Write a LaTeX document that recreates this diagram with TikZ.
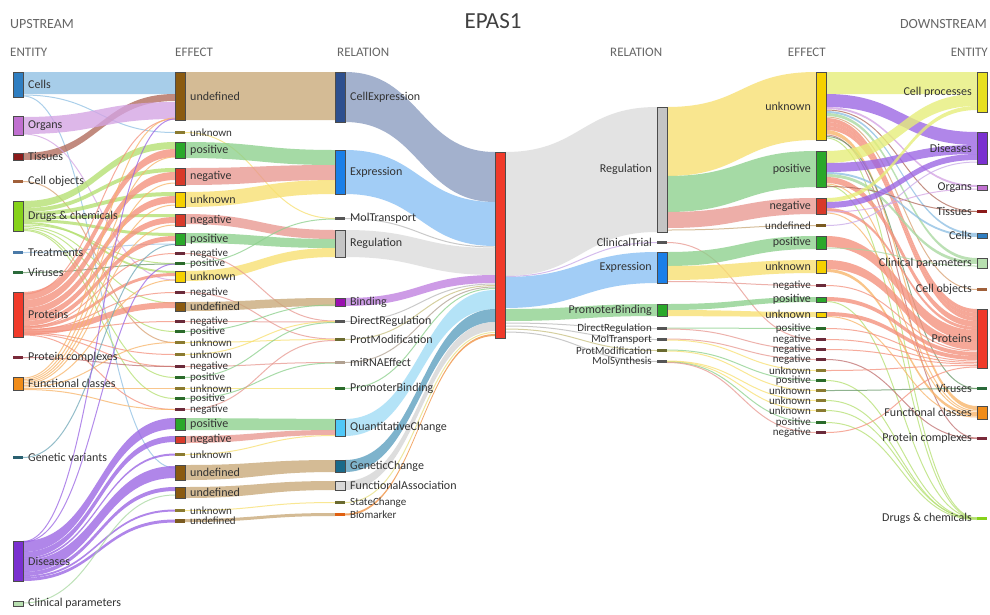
\documentclass[tikz,border=0pt]{standalone}
\usepackage{fontspec}
\setmainfont{Carlito}
\usetikzlibrary{calc}
\pgfdeclarelayer{bg}\pgfdeclarelayer{flows}\pgfsetlayers{bg,flows,main}
% node colours
\definecolor{txt}{HTML}{333333}
\definecolor{hdrc}{HTML}{666666}
\definecolor{cCells}{HTML}{2F7EC1}
\definecolor{cOrg}{HTML}{C070D0}
\definecolor{cTis}{HTML}{8B1A1A}
\definecolor{cCobj}{HTML}{A0603A}
\definecolor{cDrug}{HTML}{86D21A}
\definecolor{cTreat}{HTML}{4A7AA8}
\definecolor{cVir}{HTML}{2A6A3A}
\definecolor{cProt}{HTML}{F03A2A}
\definecolor{cPcx}{HTML}{7A2A3A}
\definecolor{cFunc}{HTML}{F08C1A}
\definecolor{cGen}{HTML}{2A6070}
\definecolor{cDis}{HTML}{7A30D0}
\definecolor{cClin}{HTML}{B8E0B0}
\definecolor{cCproc}{HTML}{E8E020}
\definecolor{cUndef}{HTML}{8A5A10}
\definecolor{cUnk}{HTML}{F5D000}
\definecolor{cPos}{HTML}{2AA82A}
\definecolor{cNeg}{HTML}{D83A2A}
\definecolor{dUndef}{HTML}{7A5A20}
\definecolor{dUnk}{HTML}{8A7A30}
\definecolor{dPos}{HTML}{2A6A2A}
\definecolor{dNeg}{HTML}{6A2A3A}
\definecolor{cCellExp}{HTML}{2D4F8E}
\definecolor{cExpr}{HTML}{1A7FE8}
\definecolor{cReg}{HTML}{C4C4C4}
\definecolor{cBind}{HTML}{9A10B0}
\definecolor{cQC}{HTML}{50C8F8}
\definecolor{cGC}{HTML}{1A6A8A}
\definecolor{cFA}{HTML}{D8D8D8}
\definecolor{dGray}{HTML}{555555}
\definecolor{dOlive}{HTML}{6A6A30}
\definecolor{dTan}{HTML}{B0A090}
\definecolor{cBio}{HTML}{E06010}
% band colours
\definecolor{bCells}{HTML}{8FC0E4}
\definecolor{bOrg}{HTML}{D4A4E4}
\definecolor{bTis}{HTML}{B06A5A}
\definecolor{bCobj}{HTML}{D8A070}
\definecolor{bDrug}{HTML}{B4E070}
\definecolor{bTreat}{HTML}{9CC4E8}
\definecolor{bVir}{HTML}{6A9A6A}
\definecolor{bProt}{HTML}{F4907C}
\definecolor{bPcx}{HTML}{C07070}
\definecolor{bFunc}{HTML}{F8B468}
\definecolor{bGen}{HTML}{70A8B8}
\definecolor{bDis}{HTML}{9A64E4}
\definecolor{bClin}{HTML}{A8D8A0}
\definecolor{bUndef}{HTML}{C8A878}
\definecolor{bUnk}{HTML}{F8E070}
\definecolor{bPos}{HTML}{8CD08C}
\definecolor{bNeg}{HTML}{E89890}
\definecolor{bCellExp}{HTML}{8A9CC0}
\definecolor{bExpr}{HTML}{88C0F4}
\definecolor{bReg}{HTML}{DCDCDC}
\definecolor{bBind}{HTML}{C080E0}
\definecolor{bQC}{HTML}{A0DCF6}
\definecolor{bGC}{HTML}{5A9EBE}
\definecolor{bFA}{HTML}{D4D4D4}
\definecolor{bSC}{HTML}{E8E080}
\definecolor{bBio}{HTML}{F09040}
\definecolor{bCproc}{HTML}{E6EE78}
\definecolor{bGray}{HTML}{B8B8B8}
\definecolor{bLav}{HTML}{C8A8E8}
\definecolor{bOl}{HTML}{C8C080}
\tikzset{
 nb/.style={rectangle, draw=black!70, line width=0.6pt, inner sep=0pt, outer sep=0pt, minimum width=10pt, anchor=north west},
 nd/.style={rectangle, draw=none, inner sep=0pt, outer sep=0pt, minimum width=10pt, anchor=north west},
 ne/.style={nd},
 lbl/.style={font=\fontsize{12}{12}\selectfont, text=txt, inner sep=0pt},
 nblab/.style={},
 nelab/.style={},
 ndlab/.style={font=\fontsize{11}{11}\selectfont},
 hdr/.style={font=\fontsize{13}{14}\selectfont, text=hdrc, inner sep=0pt},
 bandfill/.style={fill opacity=0.78},
 thinline/.style={line width=1pt, draw opacity=0.75}
}
\newcommand{\nodeL}[7]{\node[#1, minimum height=#5pt, fill=#6] (#2) at (#3,#4) {};
 \node[lbl, #1lab, anchor=west] (#2t) at ($(#2.east)+(5,0)$) {#7};}
\newcommand{\nodeR}[7]{\node[#1, minimum height=#5pt, fill=#6] (#2) at (#3,#4) {};
 \node[lbl, #1lab, anchor=east] (#2t) at ($(#2.west)+(-5,0)$) {#7};}
\newcommand{\flowband}[7]{\fill[#7, bandfill] ($(#1.north east)+(0,#2)$) .. controls +(75,0) and +(-75,0) .. ($(#4.north west)+(0,#5)$) -- ($(#4.north west)+(0,#6)$) .. controls +(-75,0) and +(75,0) .. ($(#1.north east)+(0,#3)$) -- cycle;}
\newcommand{\flowline}[5]{\draw[#5, thinline] ($(#1.north east)+(0,#2)$) .. controls +(75,0) and +(-75,0) .. ($(#3.north west)+(0,#4)$);}
\begin{document}
\begin{tikzpicture}[x=1pt,y=-1pt]
\begin{pgfonlayer}{bg}
\fill[white] (0,0) rectangle (990,614);
\end{pgfonlayer}
\useasboundingbox (0,0) rectangle (990,614);
% headers
\node[hdr, anchor=west, font=\fontsize{14}{14}\selectfont] (hup) at (10,24) {UPSTREAM};
\node[hdr, anchor=west] (hent) at (10,52) {ENTITY};
\node[hdr, anchor=west] (heff) at (175,52) {EFFECT};
\node[hdr, anchor=west] (hrel) at (337,52) {RELATION};
\node[font=\fontsize{23}{24}\selectfont, text=black!75, inner sep=0pt] (title) at (493,21) {EPAS1};
\node[hdr, anchor=west] (hrel2) at (610,52) {RELATION};
\node[hdr, anchor=east] (heff2) at (826,52) {EFFECT};
\node[hdr, anchor=east, font=\fontsize{14}{14}\selectfont] (hdown) at (987,24) {DOWNSTREAM};
\node[hdr, anchor=east] (hent2) at (988,52) {ENTITY};
% left entities
\nodeL{nb}{lcells}{13}{72}{25}{cCells}{Cells}
\nodeL{nb}{lorg}{13}{116}{19}{cOrg}{Organs}
\nodeL{nb}{ltis}{13}{153}{7}{cTis}{Tissues}
\nodeL{ne}{lcobj}{13}{180}{3}{cCobj}{Cell objects}
\nodeL{nb}{ldrug}{13}{201}{30}{cDrug}{Drugs \& chemicals}
\nodeL{ne}{ltreat}{13}{251}{3}{cTreat}{Treatments}
\nodeL{ne}{lvir}{13}{271}{3}{cVir}{Viruses}
\nodeL{nb}{lprot}{13}{292}{45}{cProt}{Proteins}
\nodeL{ne}{lpcx}{13}{356}{3}{cPcx}{Protein complexes}
\nodeL{nb}{lfunc}{13}{377}{13}{cFunc}{Functional classes}
\nodeL{ne}{lgen}{13}{456}{3}{cGen}{Genetic variants}
\nodeL{nb}{ldis}{13}{541}{40}{cDis}{Diseases}
\nodeL{nb}{lclin}{13}{601}{5}{cClin}{Clinical parameters}
% left effects
\nodeL{nb}{f1}{175}{72}{48}{cUndef}{undefined}
\nodeL{nd}{f2}{175}{131}{3}{dUnk}{unknown}
\nodeL{nb}{f3}{175}{142}{16}{cPos}{positive}
\nodeL{nb}{f4}{175}{168}{17}{cNeg}{negative}
\nodeL{nb}{f5}{175}{192}{15}{cUnk}{unknown}
\nodeL{nb}{f6}{175}{214}{12}{cNeg}{negative}
\nodeL{nb}{f7}{175}{233}{12}{cPos}{positive}
\nodeL{nd}{f8}{175}{252}{3}{dNeg}{negative}
\nodeL{nd}{f9}{175}{262}{3}{dPos}{positive}
\nodeL{nb}{f10}{175}{271}{11}{cUnk}{unknown}
\nodeL{nd}{f11}{175}{291}{3}{dNeg}{negative}
\nodeL{nb}{f12}{175}{302}{9}{cUndef}{undefined}
\nodeL{nd}{f13}{175}{320}{3}{dNeg}{negative}
\nodeL{nd}{f14}{175}{330}{3}{dPos}{positive}
\nodeL{nd}{f15}{175}{341}{3}{dUnk}{unknown}
\nodeL{nd}{f16}{175}{353}{3}{dUnk}{unknown}
\nodeL{nd}{f17}{175}{365}{3}{dNeg}{negative}
\nodeL{nd}{f18}{175}{376}{3}{dPos}{positive}
\nodeL{nd}{f19}{175}{387}{3}{dUnk}{unknown}
\nodeL{nd}{f20}{175}{397}{3}{dPos}{positive}
\nodeL{nd}{f21}{175}{408}{3}{dNeg}{negative}
\nodeL{nb}{f22}{175}{418}{12}{cPos}{positive}
\nodeL{nb}{f23}{175}{436}{7}{cNeg}{negative}
\nodeL{nd}{f24}{175}{453}{3}{dUnk}{unknown}
\nodeL{nb}{f25}{175}{465}{15}{cUndef}{undefined}
\nodeL{nb}{f26}{175}{487}{11}{cUndef}{undefined}
\nodeL{nd}{f27}{175}{509}{3}{dUnk}{unknown}
\nodeL{nd}{f28}{175}{519}{4}{dUndef}{undefined}
% left relations
\nodeL{nb}{r1}{335}{72}{50}{cCellExp}{CellExpression}
\nodeL{nb}{r2}{335}{150}{44}{cExpr}{Expression}
\nodeL{ne}{r3}{335}{217}{3}{dGray}{MolTransport}
\nodeL{nb}{r4}{335}{230}{27}{cReg}{Regulation}
\nodeL{nb}{r5}{335}{298}{8}{cBind}{Binding}
\nodeL{ne}{r6}{335}{320}{3}{dGray}{DirectRegulation}
\nodeL{ne}{r7}{335}{338}{3}{dOlive}{ProtModification}
\nodeL{ne}{r8}{335}{361}{3}{dTan}{miRNAEffect}
\nodeL{ne}{r9}{335}{387}{3}{dPos}{PromoterBinding}
\nodeL{nb}{r10}{335}{419}{17}{cQC}{QuantitativeChange}
\nodeL{nb}{r11}{335}{460}{12}{cGC}{GeneticChange}
\nodeL{nb}{r12}{335}{481}{9}{cFA}{FunctionalAssociation}
\nodeL{nd}{r13}{335}{501}{3}{dOlive}{StateChange}
\nodeL{nd}{r14}{335}{513}{3}{cBio}{Biomarker}
% centre
\node[nb, minimum height=186pt, fill=cProt] (epas) at (495,152) {};
% right relations
\nodeR{nb}{s1}{657}{107}{125}{cReg}{Regulation}
\nodeR{ne}{s2}{657}{241}{3}{dGray}{ClinicalTrial}
\nodeR{nb}{s3}{657}{252}{31}{cExpr}{Expression}
\nodeR{nb}{s4}{657}{304}{12}{cPos}{PromoterBinding}
\nodeR{nd}{s5}{657}{327}{3}{dGray}{DirectRegulation}
\nodeR{nd}{s6}{657}{338}{3}{dGray}{MolTransport}
\nodeR{nd}{s7}{657}{349}{3}{dOlive}{ProtModification}
\nodeR{nd}{s8}{657}{360}{3}{dGray}{MolSynthesis}
% right effects
\nodeR{nb}{g1}{816}{72}{68}{cUnk}{unknown}
\nodeR{nb}{g2}{816}{151}{36}{cPos}{positive}
\nodeR{nb}{g3}{816}{198}{16}{cNeg}{negative}
\nodeR{nd}{g4}{816}{224}{3}{dUndef}{undefined}
\nodeR{nb}{g5}{816}{236}{13}{cPos}{positive}
\nodeR{nb}{g6}{816}{260}{13}{cUnk}{unknown}
\nodeR{nd}{g7}{816}{284}{3}{dNeg}{negative}
\nodeR{nb}{g8}{816}{297}{5}{cPos}{positive}
\nodeR{nb}{g9}{816}{312}{5}{cUnk}{unknown}
\nodeR{nd}{g10}{816}{327}{3}{dPos}{positive}
\nodeR{nd}{g11}{816}{338}{3}{dNeg}{negative}
\nodeR{nd}{g12}{816}{348}{3}{dNeg}{negative}
\nodeR{nd}{g13}{816}{358}{3}{dNeg}{negative}
\nodeR{nd}{g14}{816}{369}{3}{dUnk}{unknown}
\nodeR{nd}{g15}{816}{379}{3}{dPos}{positive}
\nodeR{nd}{g16}{816}{389}{3}{dUnk}{unknown}
\nodeR{nd}{g17}{816}{399}{3}{dUnk}{unknown}
\nodeR{nd}{g18}{816}{409}{3}{dUnk}{unknown}
\nodeR{nd}{g19}{816}{421}{3}{dPos}{positive}
\nodeR{nd}{g20}{816}{431}{3}{dNeg}{negative}
% right entities
\nodeR{nb}{t1}{977}{72}{40}{cCproc}{Cell processes}
\nodeR{nb}{t2}{977}{132}{32}{cDis}{Diseases}
\nodeR{nb}{t3}{977}{185}{5}{cOrg}{Organs}
\nodeR{ne}{t4}{977}{210}{3}{cTis}{Tissues}
\nodeR{nb}{t5}{977}{233}{5}{cCells}{Cells}
\nodeR{nb}{t6}{977}{258}{10}{cClin}{Clinical parameters}
\nodeR{ne}{t7}{977}{288}{3}{cCobj}{Cell objects}
\nodeR{nb}{t8}{977}{309}{59}{cProt}{Proteins}
\nodeR{ne}{t9}{977}{387}{3}{cVir}{Viruses}
\nodeR{nb}{t10}{977}{406}{13}{cFunc}{Functional classes}
\nodeR{ne}{t11}{977}{437}{3}{cPcx}{Protein complexes}
\nodeR{ne}{t12}{977}{517}{3}{cDrug}{Drugs \& chemicals}
\begin{pgfonlayer}{flows}
% entity -> effect (left)
\flowband{lcells}{0}{22}{f1}{0}{22}{bCells}
\flowline{lcells}{23}{f2}{1.5}{bCells}
\flowline{lcells}{24}{f25}{3}{bCells}
\flowband{ltis}{0}{7}{f1}{22}{29}{bTis}
\flowband{lorg}{1}{18}{f1}{30}{47}{bOrg}
\flowline{lorg}{18}{f10}{9}{bOrg}
\flowline{lcobj}{1.5}{f15}{1.5}{bCobj}
\flowband{ldrug}{0}{7}{f3}{0}{7}{bDrug}
\flowband{ldrug}{7}{11}{f4}{0}{4}{bDrug}
\flowband{ldrug}{11}{15}{f5}{0}{4}{bDrug}
\flowband{ldrug}{15}{18}{f6}{0}{3}{bDrug}
\flowband{ldrug}{18}{21}{f7}{0}{3}{bDrug}
\flowband{ldrug}{21}{23}{f10}{0}{2}{bDrug}
\flowline{ldrug}{24}{f9}{1.5}{bDrug}
\flowline{ldrug}{25.5}{f12}{1}{bDrug}
\flowline{ldrug}{27}{f14}{1.5}{bDrug}
\flowline{ldrug}{28.5}{f18}{1.5}{bDrug}
\flowline{ldrug}{29.5}{f20}{1.5}{bDrug}
\flowline{ltreat}{1.5}{f7}{11}{bTreat}
\flowline{lvir}{1.5}{f9}{2}{bVir}
\flowband{lprot}{0}{8}{f3}{7}{15}{bProt}
\flowband{lprot}{8}{16}{f4}{4}{12}{bProt}
\flowband{lprot}{16}{23}{f5}{4}{11}{bProt}
\flowband{lprot}{23}{29}{f6}{3}{9}{bProt}
\flowband{lprot}{29}{34}{f7}{3}{8}{bProt}
\flowband{lprot}{34}{37}{f10}{2}{5}{bProt}
\flowband{lprot}{37}{43}{f12}{0}{6}{bProt}
\flowline{lprot}{2}{f1}{47}{bProt}
\flowline{lprot}{35}{f8}{1.5}{bProt}
\flowline{lprot}{38}{f11}{1.5}{bProt}
\flowline{lprot}{40}{f13}{1.5}{bProt}
\flowline{lprot}{41}{f16}{1.5}{bProt}
\flowline{lprot}{42}{f17}{1.5}{bProt}
\flowline{lprot}{43}{f21}{1.5}{bProt}
\flowline{lpcx}{1.5}{f17}{1.5}{bPcx}
\flowline{lfunc}{1}{f1}{46}{bFunc}
\flowline{lfunc}{2.5}{f3}{15}{bFunc}
\flowline{lfunc}{4}{f4}{15}{bFunc}
\flowline{lfunc}{5.5}{f5}{13}{bFunc}
\flowline{lfunc}{7}{f6}{11}{bFunc}
\flowline{lfunc}{8.5}{f10}{9}{bFunc}
\flowline{lfunc}{10}{f15}{1.5}{bFunc}
\flowline{lfunc}{11.5}{f19}{1.5}{bFunc}
\flowline{lfunc}{12.5}{f21}{1.5}{bFunc}
\flowline{lgen}{1.5}{f7}{11.5}{bGen}
\flowband{ldis}{0}{11}{f22}{0}{11}{bDis}
\flowband{ldis}{11}{17}{f23}{0}{6}{bDis}
\flowband{ldis}{17}{19}{f24}{0.5}{2.5}{bDis}
\flowband{ldis}{19}{31}{f25}{1}{13}{bDis}
\flowband{ldis}{31}{35}{f26}{0}{4}{bDis}
\flowband{ldis}{35}{37}{f27}{0.5}{2.5}{bDis}
\flowband{ldis}{37}{40}{f28}{0.5}{3.5}{bDis}
\flowline{ldis}{0.5}{f1}{47}{bDis}
\flowline{ldis}{1}{f9}{2}{bDis}
\flowline{lclin}{2}{f26}{8}{bClin}
% effect -> relation (left)
\flowband{f1}{0}{48}{r1}{0}{48}{bUndef}
\flowline{f2}{1.5}{r3}{1.5}{bUnk}
\flowband{f3}{0}{16}{r2}{0}{15}{bPos}
\flowband{f4}{0}{17}{r2}{15}{30}{bNeg}
\flowband{f5}{0}{15}{r2}{30}{44}{bUnk}
\flowband{f6}{0}{10}{r4}{0}{9}{bNeg}
\flowband{f7}{0}{10}{r4}{9}{18}{bPos}
\flowband{f10}{0}{10}{r4}{18}{27}{bUnk}
\flowline{f8}{1.5}{r6}{1}{bNeg}
\flowline{f9}{1.5}{r3}{2}{bPos}
\flowline{f11}{1.5}{r7}{1}{bNeg}
\flowband{f12}{0}{9}{r5}{0}{8}{bUndef}
\flowline{f13}{1.5}{r6}{2}{bNeg}
\flowline{f14}{1.5}{r5}{7}{bPos}
\flowline{f15}{1.5}{r7}{1.5}{bUnk}
\flowline{f16}{1.5}{r6}{1.5}{bUnk}
\flowline{f17}{1.5}{r8}{1.5}{bNeg}
\flowline{f18}{1.5}{r6}{2.5}{bPos}
\flowline{f19}{1.5}{r9}{1.5}{bUnk}
\flowline{f20}{1.5}{r8}{2}{bPos}
\flowline{f21}{1.5}{r7}{2.5}{bNeg}
\flowband{f22}{0}{12}{r10}{0}{11}{bPos}
\flowband{f23}{0}{7}{r10}{11}{16}{bNeg}
\flowline{f24}{1.5}{r10}{16.5}{bUnk}
\flowband{f25}{0}{15}{r11}{0}{12}{bUndef}
\flowband{f26}{0}{11}{r12}{0}{9}{bUndef}
\flowline{f27}{1.5}{r13}{1.5}{bUnk}
\flowband{f28}{0}{3}{r14}{0}{3}{bUndef}
% relation -> EPAS1
\flowband{r1}{0}{50}{epas}{0}{50}{bCellExp}
\flowband{r2}{0}{44}{epas}{50}{94}{bExpr}
\flowline{r3}{1.5}{epas}{95}{bGray}
\flowband{r4}{0}{27}{epas}{96}{123}{bReg}
\flowband{r5}{0}{8}{epas}{123}{131}{bBind}
\flowline{r6}{1.5}{epas}{132}{bGray}
\flowline{r7}{1.5}{epas}{133.5}{bOl}
\flowline{r8}{1.5}{epas}{135}{dTan}
\flowline{r9}{1.5}{epas}{136.5}{bPos}
\flowband{r10}{0}{17}{epas}{138}{157}{bQC}
\flowband{r11}{0}{12}{epas}{157}{170}{bGC}
\flowband{r12}{0}{9}{epas}{170}{179}{bFA}
\flowline{r13}{1.5}{epas}{180.5}{bSC}
\flowband{r14}{0.5}{2.5}{epas}{182}{184}{bBio}
% EPAS1 -> relation (right)
\flowband{epas}{0}{124}{s1}{0}{125}{bReg}
\flowline{epas}{124.5}{s2}{1.5}{bLav}
\flowband{epas}{125}{156}{s3}{0}{31}{bExpr}
\flowband{epas}{157}{169}{s4}{0}{12}{bPos}
\flowline{epas}{171}{s5}{1.5}{bGray}
\flowline{epas}{174}{s6}{1.5}{bGray}
\flowline{epas}{177}{s7}{1.5}{bOl}
\flowline{epas}{180}{s8}{1.5}{bGray}
% relation -> effect (right)
\flowband{s1}{0}{69}{g1}{0}{68}{bUnk}
\flowband{s1}{69}{105}{g2}{0}{36}{bPos}
\flowband{s1}{105}{121}{g3}{0}{16}{bNeg}
\flowline{s1}{123}{g4}{1.5}{bUndef}
\flowline{s2}{1.5}{g11}{1.5}{bNeg}
\flowband{s3}{0}{14}{g5}{0}{13}{bPos}
\flowband{s3}{14}{28}{g6}{0}{13}{bUnk}
\flowline{s3}{29.5}{g7}{1.5}{bNeg}
\flowband{s4}{0}{6}{g8}{0}{5}{bPos}
\flowband{s4}{6}{12}{g9}{0}{5}{bUnk}
\flowline{s5}{1}{g10}{1.5}{bPos}
\flowline{s5}{2}{g12}{1.5}{bNeg}
\flowline{s6}{1}{g13}{1.5}{bNeg}
\flowline{s6}{2}{g14}{1.5}{bUnk}
\flowline{s7}{1}{g15}{1.5}{bPos}
\flowline{s7}{2}{g16}{1.5}{bUnk}
\flowline{s8}{1}{g17}{1.5}{bUnk}
\flowline{s8}{1.5}{g18}{1.5}{bUnk}
\flowline{s8}{2}{g19}{1.5}{bPos}
\flowline{s8}{2.5}{g20}{1.5}{bNeg}
% effect -> entity (right)
\flowband{g1}{0}{22}{t1}{0}{22}{bCproc}
\flowband{g1}{22}{35}{t2}{0}{13}{bDis}
\flowband{g1}{35}{37}{t3}{0}{2}{bOrg}
\flowline{g1}{38}{t4}{1.5}{bTis}
\flowband{g1}{39}{41}{t5}{0}{2}{bCells}
\flowband{g1}{41}{44}{t6}{0}{3}{bClin}
\flowline{g1}{45}{t7}{1.5}{bCobj}
\flowband{g1}{46}{50}{t8}{0}{4}{bProt}
\flowband{g1}{50}{54}{t8}{4}{8}{bProt}
\flowband{g1}{54}{58}{t8}{8}{12}{bProt}
\flowband{g1}{58}{62}{t10}{0}{4}{bFunc}
\flowline{g1}{63}{t11}{1}{bPcx}
\flowline{g1}{64.5}{t9}{1.5}{bVir}
\flowline{g1}{66}{t12}{1}{bDrug}
\flowband{g2}{0}{12}{t1}{22}{34}{bCproc}
\flowband{g2}{12}{21}{t2}{13}{22}{bDis}
\flowband{g2}{21}{23}{t5}{2}{4}{bCells}
\flowband{g2}{23}{26}{t6}{3}{6}{bClin}
\flowband{g2}{26}{32}{t8}{12}{18}{bProt}
\flowline{g2}{33}{t10}{5}{bFunc}
\flowline{g2}{34.5}{t12}{1.5}{bDrug}
\flowline{g2}{35.5}{t4}{1.5}{bTis}
\flowband{g3}{0}{4}{t1}{34}{38}{bCproc}
\flowband{g3}{4}{10}{t2}{22}{28}{bDis}
\flowband{g3}{10}{13}{t8}{18}{21}{bProt}
\flowline{g3}{14}{t3}{4}{bOrg}
\flowline{g3}{15}{t10}{6.5}{bFunc}
\flowline{g4}{1.5}{t2}{30}{bLav}
\flowband{g5}{0}{11}{t8}{21}{32}{bProt}
\flowline{g5}{12}{t6}{8}{bClin}
\flowband{g6}{0}{9}{t8}{32}{41}{bProt}
\flowband{g6}{9}{12}{t10}{7}{10}{bFunc}
\flowline{g7}{1.5}{t8}{42}{bProt}
\flowband{g8}{0}{4}{t8}{43}{47}{bProt}
\flowline{g8}{4.5}{t12}{1}{bDrug}
\flowband{g9}{0}{4}{t8}{47}{51}{bProt}
\flowline{g9}{4.5}{t10}{11}{bFunc}
\flowline{g10}{1.5}{t8}{52}{bProt}
\flowline{g11}{1.5}{t8}{53.5}{bProt}
\flowline{g12}{1.5}{t8}{55}{bProt}
\flowline{g13}{1.5}{t11}{1.5}{bPcx}
\flowline{g14}{1.5}{t8}{56.5}{bProt}
\flowline{g15}{1.5}{t12}{1.5}{bDrug}
\flowline{g16}{1.5}{t9}{1.5}{bVir}
\flowline{g17}{1.5}{t12}{2}{bDrug}
\flowline{g18}{1.5}{t12}{1}{bDrug}
\flowline{g19}{1.5}{t12}{2.5}{bDrug}
\flowline{g20}{1.5}{t8}{58}{bProt}
\end{pgfonlayer}
\end{tikzpicture}
\end{document}
